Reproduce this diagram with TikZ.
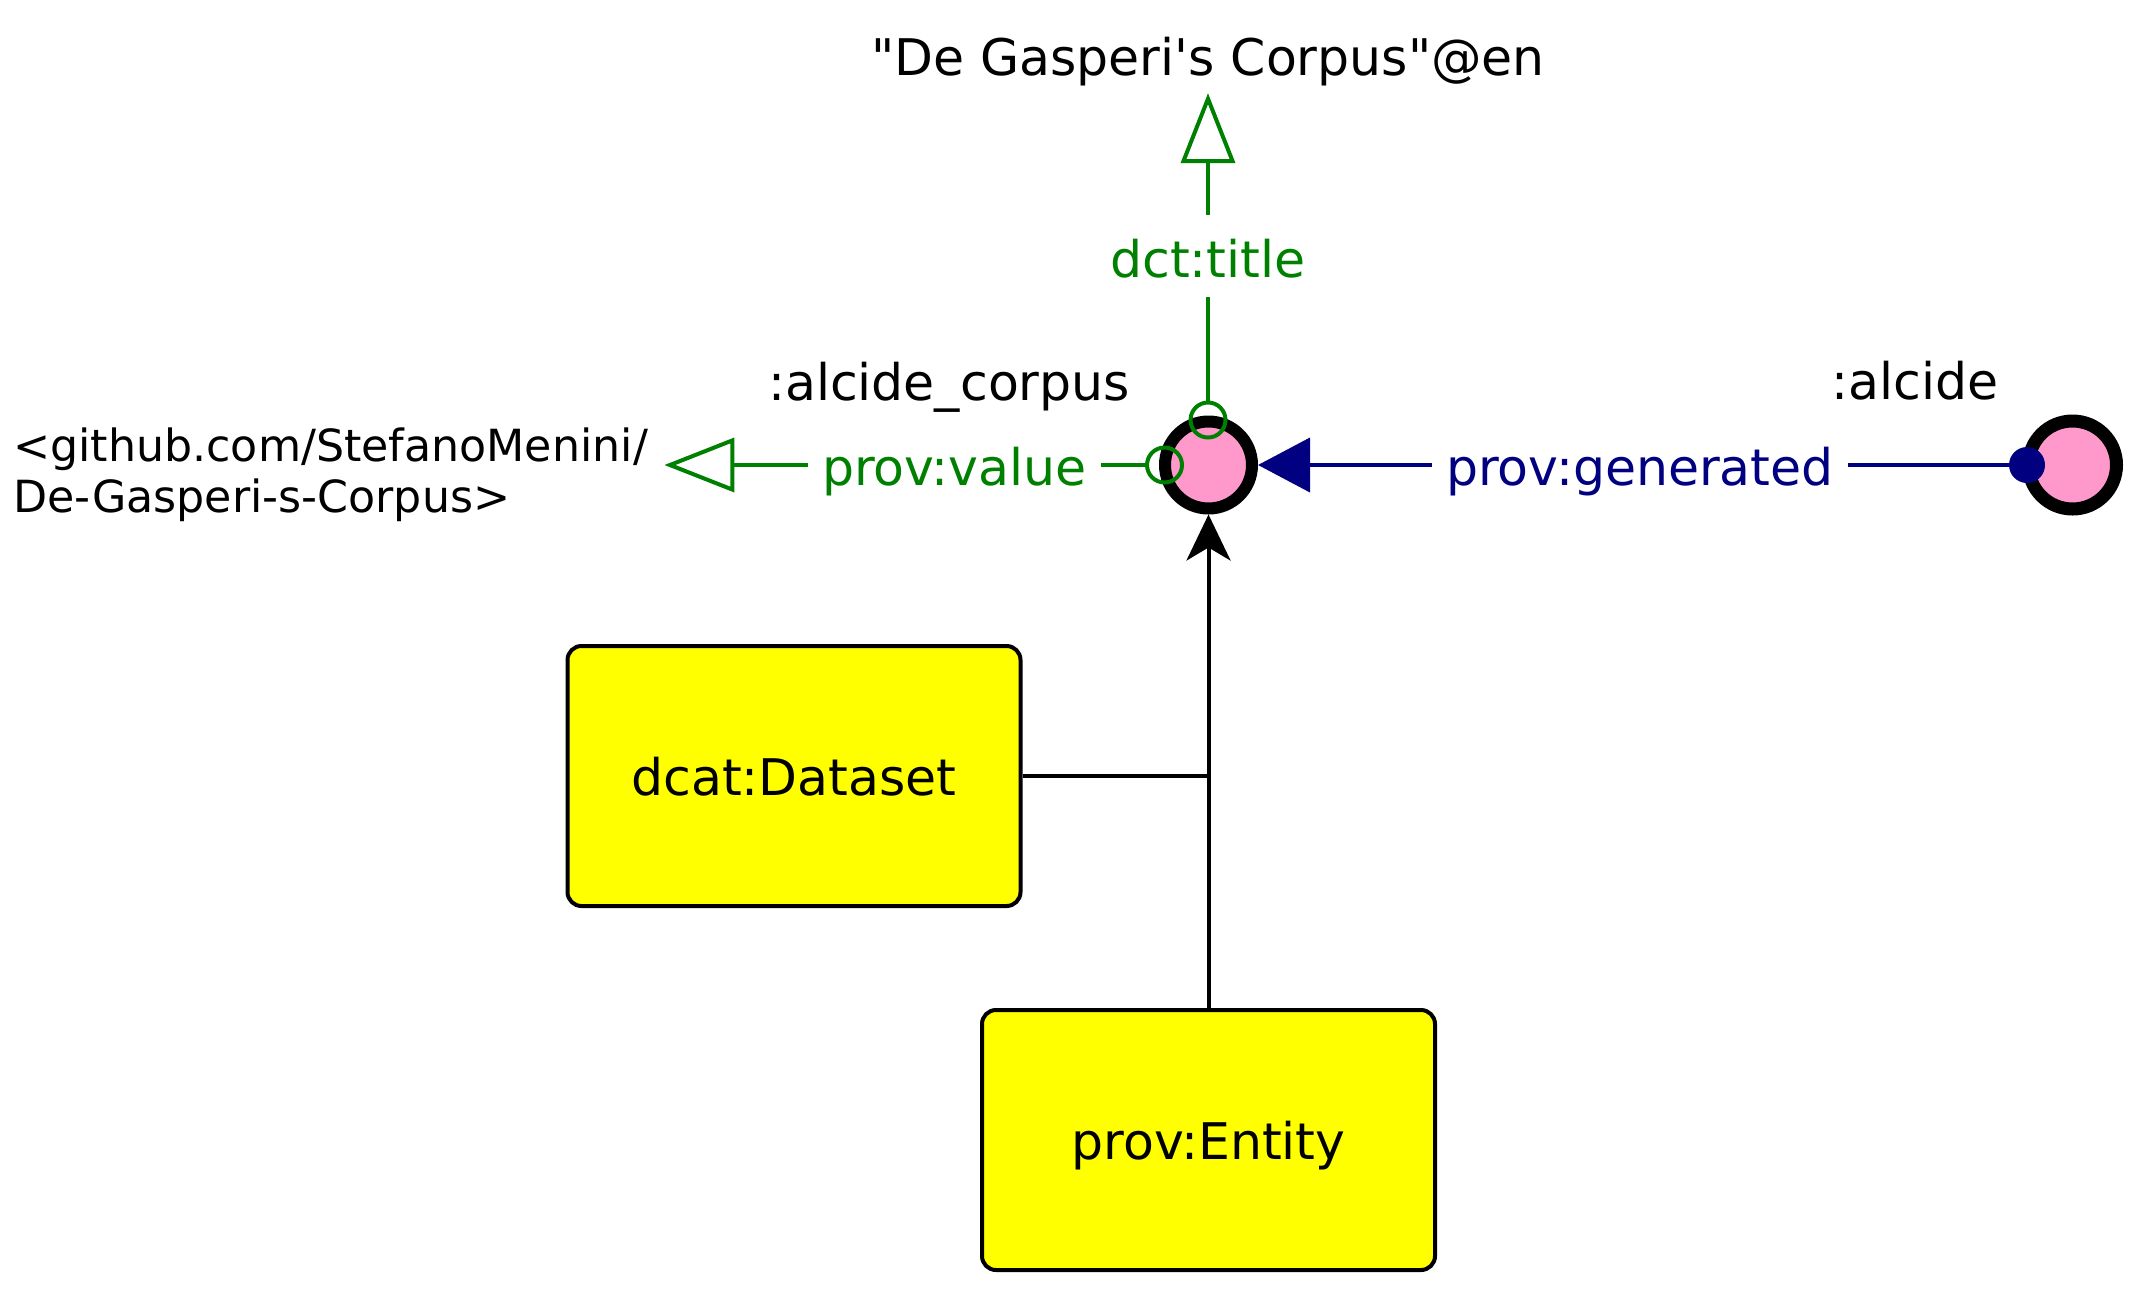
\documentclass[tikz,border=0pt]{standalone}
\usepackage{fontspec}
\newfontfamily\dv{DejaVu Sans}
\usetikzlibrary{arrows.meta}
\definecolor{edgegreen}{RGB}{0,128,0}
\definecolor{edgenavy}{RGB}{0,0,128}
\definecolor{indpink}{RGB}{255,153,204}
\definecolor{classyellow}{RGB}{255,255,0}
\begin{document}
\begin{tikzpicture}[x=1pt,y=-1pt,
  lbl/.style={font={\dv\fontsize{50.5}{60}\selectfont}, inner sep=0pt},
  indiv/.style={circle, draw=black, fill=indpink, line width=12pt, minimum size=87pt, inner sep=0pt, outer sep=6pt},
  classbox/.style={rectangle, rounded corners=14pt, draw=black, fill=classyellow, line width=4pt,
    minimum width=453pt, minimum height=260pt, inner sep=0pt, text height=38pt, text depth=0pt,
    font={\dv\fontsize{50.5}{60}\selectfont}},
  ring/.style={circle, draw=edgegreen, line width=4pt, minimum size=35pt, inner sep=0pt, outer sep=0pt},
  gline/.style={draw=edgegreen, line width=4pt},
  bline/.style={draw=edgenavy, line width=4pt},
  kline/.style={draw=black, line width=4pt},
  gtip/.style={-{Triangle[open, length=70pt, width=54pt]}},
  btip/.style={-{Triangle[length=52pt, width=54pt]}},
  ktip/.style={-{Stealth[length=46pt, width=44pt, inset=13pt]}}
]
\useasboundingbox (0,0) rectangle (2139,1294);

% individuals
\node[indiv] (corpus) at (1208.5,465) {};
\node[indiv, minimum size=88pt, line width=13pt, outer sep=6.5pt] (alcide) at (2072.5,465) {};
\node[lbl, anchor=base] (corpuslbl) at (949,400) {:alcide\_corpus};
\node[lbl, anchor=base] (alcidelbl) at (1915,399) {:alcide};

% classes
\node[classbox] (dataset) at (794,776) {dcat:Dataset};
\node[classbox] (entity) at (1208.5,1140) {prov:Entity};

% literals / IRIs
\node[lbl, anchor=base, text height=40pt, text depth=18pt] (titlelit) at (1208,75) {"De Gasperi's Corpus"@en};
\node[font={\dv\fontsize{44.3}{51}\selectfont}, inner sep=0pt, anchor=north west, text width=651pt, align=left] (url) at (13,428) {<github.com/StefanoMenini/\\De-Gasperi-s-Corpus>};

% property labels
\node[lbl, anchor=base, text=edgegreen, text height=62pt, text depth=20pt] (titlelbl) at (1208,277) {dct:title};
\node[lbl, anchor=base, text=edgegreen, text height=40pt, text depth=0pt, minimum width=293pt] (valuelbl) at (954.5,485) {prov:value};
\node[lbl, anchor=base, text=edgenavy, text height=40pt, text depth=0pt, minimum width=416pt] (genlbl) at (1640,485) {prov:generated};

% start markers
\node[ring] (titlering) at (1208,420) {};
\node[ring] (valuering) at (1164.5,465) {};
\node[circle, fill=edgenavy, minimum size=36pt, inner sep=0pt, outer sep=0pt] (gendot) at (2027,465) {};

% connectors
\draw[gline] (titlering) -- (titlelbl);
\draw[gline, gtip] (titlelbl) -- (titlelit);
\draw[gline] (valuering) -- (valuelbl);
\draw[gline, gtip] (valuelbl.west) -- (valuelbl.west -| url.east);
\draw[bline] (gendot) -- (genlbl);
\draw[bline, btip] (genlbl) -- (corpus);
\draw[kline, ktip] (entity) -- (corpus);
\draw[kline] (dataset.east) -- (dataset.east -| entity.north);
\end{tikzpicture}
\end{document}
